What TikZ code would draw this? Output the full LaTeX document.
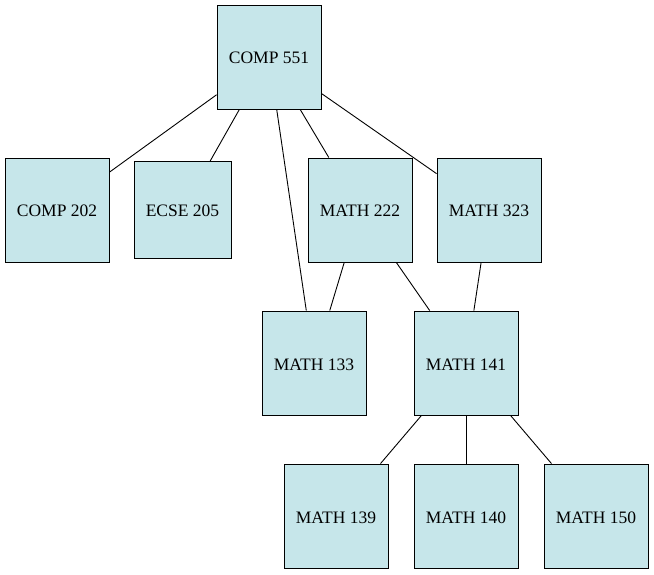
\documentclass[tikz,border=0pt]{standalone}
\usepackage{fontspec}
\setmainfont{Liberation Serif}
\definecolor{boxfill}{RGB}{198,230,234}
\tikzset{
  course/.style={draw=black,fill=boxfill,line width=0.9pt,minimum size=104pt,
    inner sep=0pt,text height=14pt,text depth=0pt,
    font=\fontsize{17.5}{20}\selectfont},
}
\begin{document}
\begin{tikzpicture}[x=1pt,y=-1pt]
    \useasboundingbox (0,0) rectangle (654,575);
    \foreach \n/\x/\y/\t in {c551/269/57/COMP 551,c202/57/210/COMP 202,
        m222/360/210/MATH 222,m323/489/210/MATH 323,m133/314/363/MATH 133,
        m141/466/363/MATH 141,m139/336/516/MATH 139,m140/466/516/MATH 140,
        m150/596/516/MATH 150}
      \node[course] (\n) at (\x,\y) {\t};
    \node[course,minimum size=97pt] (e205) at (182.5,210) {ECSE 205};
    \foreach \i/\j in {c551/c202,c551/e205,c551/m133,c551/m222,c551/m323,
        m222/m133,m222/m141,m323/m141,m141/m139,m141/m140,m141/m150}
      \draw[line width=0.9pt] (\i)--(\j);
  \end{tikzpicture}
\end{document}
